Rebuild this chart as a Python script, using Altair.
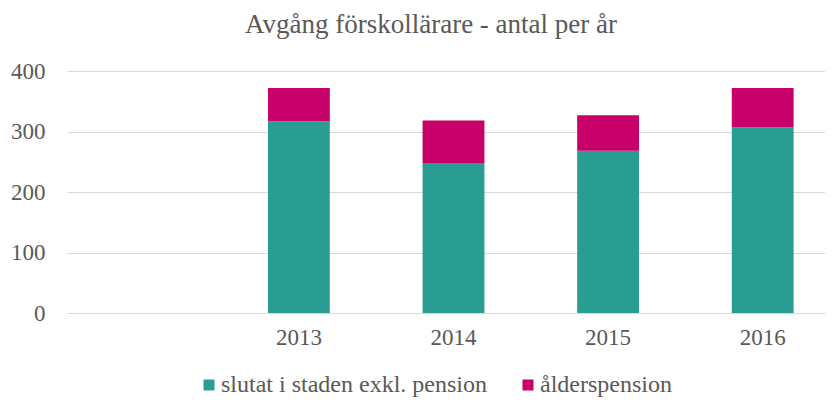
import altair as alt
import pandas as pd

years = ["2013", "2014", "2015", "2016"]
slutat = [317, 248, 268, 307]
pension = [55, 70, 59, 65]
series = ["slutat i staden exkl. pension", "ålderspension"]
x_domain = [""] + years
colors = ["#2A9D92", "#C8006A"]
y_ticks = [0, 100, 200, 300, 400]

rows = []
for yr, a, b in zip(years, slutat, pension):
    rows.append({"year": yr, "serie": series[0], "antal": a, "ordning": 0})
    rows.append({"year": yr, "serie": series[1], "antal": b, "ordning": 1})
df = pd.DataFrame(rows)

font = "'Liberation Serif', 'Times New Roman', serif"
gray = "#595959"
grid = "#D9D9D9"

chart = alt.Chart(df).mark_bar().encode(
    x=alt.X(
        "year:N",
        scale=alt.Scale(domain=x_domain, range=[0, 773], paddingInner=0.6, paddingOuter=0.3),
        axis=alt.Axis(title=None, labelAngle=0, ticks=False, domain=True, domainColor=grid,
                      labelPadding=13, labelFontSize=23, labelFont=font, labelColor=gray, grid=False),
    ),
    y=alt.Y(
        "antal:Q",
        stack="zero",
        scale=alt.Scale(domain=[0, 400], nice=False),
        axis=alt.Axis(title=None, values=y_ticks, ticks=False, domain=False, gridColor=grid,
                      labelPadding=22, labelFontSize=23, labelFont=font, labelColor=gray),
    ),
    color=alt.Color(
        "serie:N",
        scale=alt.Scale(domain=series, range=colors),
        legend=alt.Legend(title=None, orient="none", legendX=130, legendY=302, direction="horizontal",
                          columns=2, symbolType="square", symbolSize=121, symbolStrokeWidth=0,
                          labelFontSize=24, labelFont=font, labelColor=gray, labelOffset=0,
                          labelLimit=500, columnPadding=29, padding=0),
    ),
    order=alt.Order("ordning:Q"),
).properties(
    width=758,
    height=242,
    title=alt.TitleParams("Avgång förskollärare  - antal per år", fontSize=27, font=font, color=gray,
                          fontWeight="normal", anchor="middle", dx=-15, offset=0, baseline="alphabetic"),
    autosize=alt.AutoSizeParams(type="none"),
    padding={"left": 59, "top": 63, "right": 0, "bottom": 84},
).configure_view(stroke=None)

chart.save("out.html", embed_options={"renderer": "svg", "actions": False})
